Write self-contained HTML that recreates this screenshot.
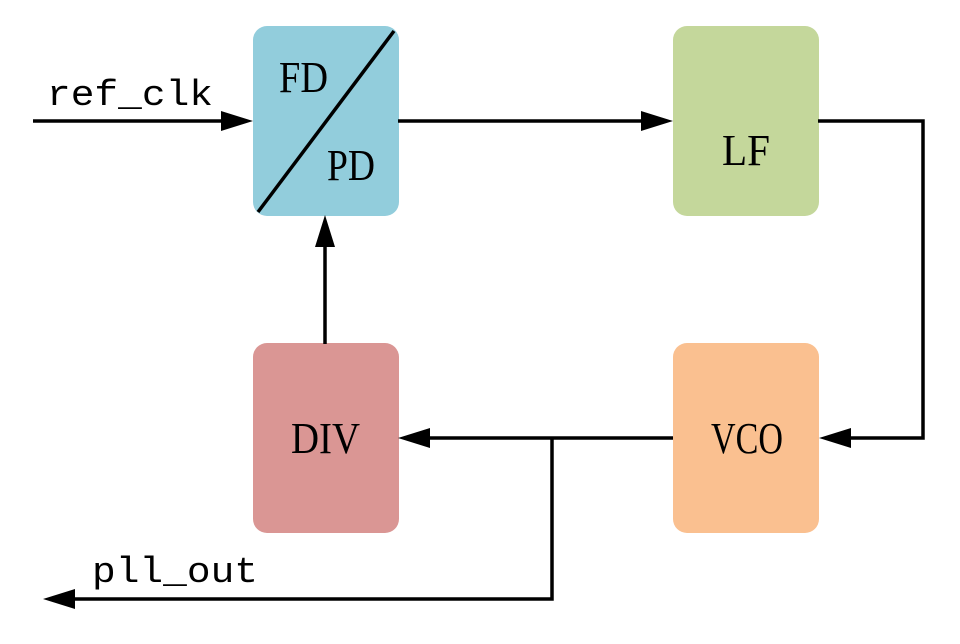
<!DOCTYPE html>
<html><head><meta charset="utf-8"><style>html,body{margin:0;padding:0;background:#fff}</style></head><body>
<svg width="960" height="639" viewBox="0 0 960 639" xmlns="http://www.w3.org/2000/svg">
<rect x="253" y="26" width="146" height="190" rx="14" fill="#92cddc"/>
<rect x="673" y="26" width="146" height="190" rx="14" fill="#c4d79b"/>
<rect x="253" y="343" width="146" height="190" rx="14" fill="#da9694"/>
<rect x="673" y="343" width="146" height="190" rx="14" fill="#fac090"/>
<g stroke="#000" stroke-width="3.5" fill="none">
<line x1="258" y1="212" x2="394" y2="31"/>
<line x1="33" y1="121" x2="225" y2="121"/>
<line x1="398" y1="121" x2="645" y2="121"/>
<polyline points="818,121 923,121 923,438 848,438"/>
<line x1="673" y1="438" x2="428" y2="438"/>
<polyline points="552,438 552,599 73,599"/>
<line x1="325" y1="344" x2="325" y2="245"/>
</g>
<g fill="#000">
<polygon points="253,121 221,111 221,131"/>
<polygon points="673,121 641,111 641,131"/>
<polygon points="819,438 851,428 851,448"/>
<polygon points="398,438 430,428 430,448"/>
<polygon points="43,599 75,589 75,609"/>
<polygon points="325,215 315,247 335,247"/>
</g>
<g font-family="Liberation Serif, serif" font-size="44" fill="#000">
<text x="279" y="92" textLength="49" lengthAdjust="spacingAndGlyphs">FD</text>
<text x="327" y="180" textLength="48" lengthAdjust="spacingAndGlyphs">PD</text>
<text x="722" y="165" textLength="48" lengthAdjust="spacingAndGlyphs">LF</text>
<text x="291" y="453" textLength="69" lengthAdjust="spacingAndGlyphs">DIV</text>
<text x="711" y="453" textLength="72" lengthAdjust="spacingAndGlyphs">VCO</text>
</g>
<g font-family="Liberation Mono, monospace" font-size="36" fill="#000">
<text x="47" y="105" textLength="166" lengthAdjust="spacingAndGlyphs">ref_clk</text>
<text x="92" y="582" textLength="166" lengthAdjust="spacingAndGlyphs">pll_out</text>
</g>
</svg>
</body></html>
